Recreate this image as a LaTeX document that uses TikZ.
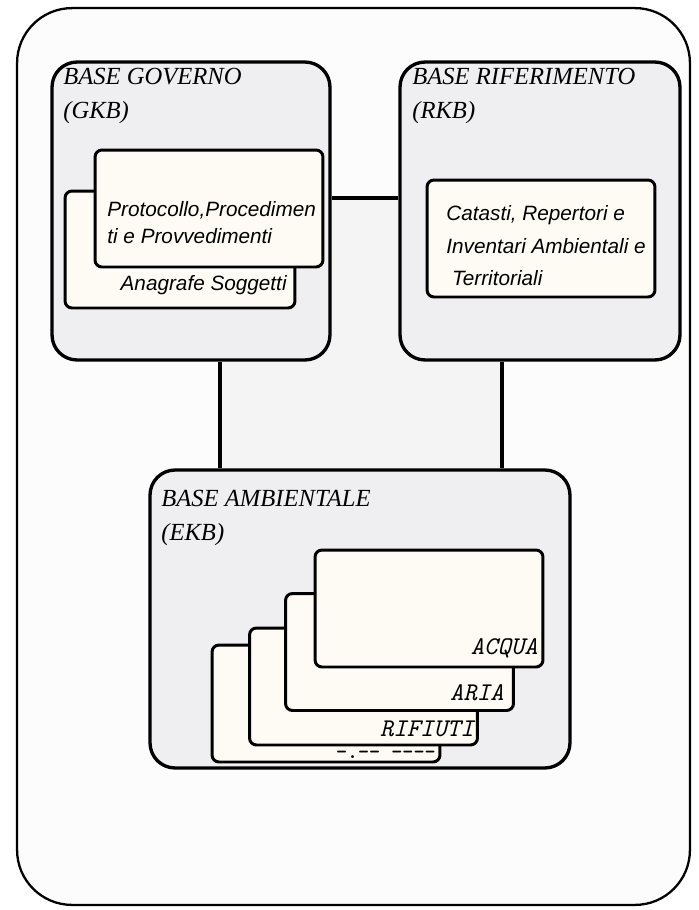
\documentclass[tikz,border=0pt]{standalone}
\usepackage{fontspec}
\setmainfont{Liberation Serif}
\setsansfont{Liberation Sans}
\usetikzlibrary{positioning}
\definecolor{kbgray}{RGB}{239,239,241}
\definecolor{cardcream}{RGB}{253,251,243}
\definecolor{framewhite}{RGB}{252,252,252}
\definecolor{linkgray}{RGB}{244,244,244}

\begin{document}
\begin{tikzpicture}[x=0.02cm, y=-0.02cm,
    kbase/.style={rectangle, draw, line width=1.9pt, fill=kbgray, rounded corners=0.5cm, minimum width=5.6cm, minimum height=5.96cm},
    card/.style={rectangle, draw, line width=1.7pt, fill=cardcream, rounded corners=0.14cm, minimum width=4.56cm, minimum height=2.34cm},
    title/.style={font=\fontsize{14}{19.3}\selectfont\itshape, align=left, anchor=north west, inner sep=0pt},
    cardtext/.style={font=\sffamily\itshape\fontsize{11.8}{15.4}\selectfont, align=left, inner sep=0pt},
    tag/.style={font=\ttfamily\itshape\fontsize{14.5}{16}\selectfont, anchor=east, inner sep=0pt},
    link/.style={line width=1.8pt}
]
\useasboundingbox (0,0) rectangle (698,910);

% Outer frame
\node[rectangle, draw, line width=1.3pt, fill=framewhite, rounded corners=1.1cm, minimum width=13.46cm, minimum height=17.94cm] (frame) at (353.5,456.5) {};
\fill[linkgray] (220,198) rectangle (502,470);

% Knowledge bases
\node[kbase, minimum width=5.56cm] (gkb) at (191,211) {};
\node[kbase] (rkb) at (540,211) {};
\node[kbase, minimum width=8.4cm] (ekb) at (360,619) {};

% Links
\draw[link] ([yshift=0.26cm]gkb.east) -- ([yshift=0.26cm]rkb.west);
\draw[link] ([xshift=0.58cm]gkb.south) -- ([xshift=0.58cm]gkb.south |- ekb.north);
\draw[link] ([xshift=-0.76cm]rkb.south) -- ([xshift=-0.76cm]rkb.south |- ekb.north);

% Titles
\node[title] (gkbtitle) at (63,68) {BASE GOVERNO\\(GKB)};
\node[title] (rkbtitle) at (412,68) {BASE RIFERIMENTO\\(RKB)};
\node[title] (ekbtitle) at (161,490) {BASE AMBIENTALE\\(EKB)};

% Cards
\node[card, minimum width=4.6cm] (anagrafe) at (180,249.5) {};
\node[card] (protocollo) at (209,208.5) {};
\node[card] (catasti) at (541,238.5) {};
\node[card] (altro) at (326,703.5) {};
\node[card] (rifiuti) at (363.5,686.5) {};
\node[card] (aria) at (399.5,652) {};
\node[card] (acqua) at (429,608.5) {};

% Card texts
\node[cardtext, anchor=west] (protext) at (107,223) {Protocollo,Procedimen\\ti e Provvedimenti};
\node[cardtext, anchor=east] (anatext) at (287,285) {Anagrafe Soggetti};
\node[cardtext, anchor=west, font=\sffamily\itshape\fontsize{11.8}{18.5}\selectfont] (catext) at (446,246) {Catasti, Repertori e\\Inventari Ambientali e\\\ Territoriali};
\node[tag] (acquatext) at (538,648) {ACQUA};
\node[tag] (ariatext) at (504,693) {ARIA};
\node[tag] (rifiutitext) at (474,729) {RIFIUTI};
\node[tag, font=\ttfamily\bfseries\fontsize{12}{13}\selectfont] (altrotext) at (436,755) {-.-- ----};

\end{tikzpicture}
\end{document}
